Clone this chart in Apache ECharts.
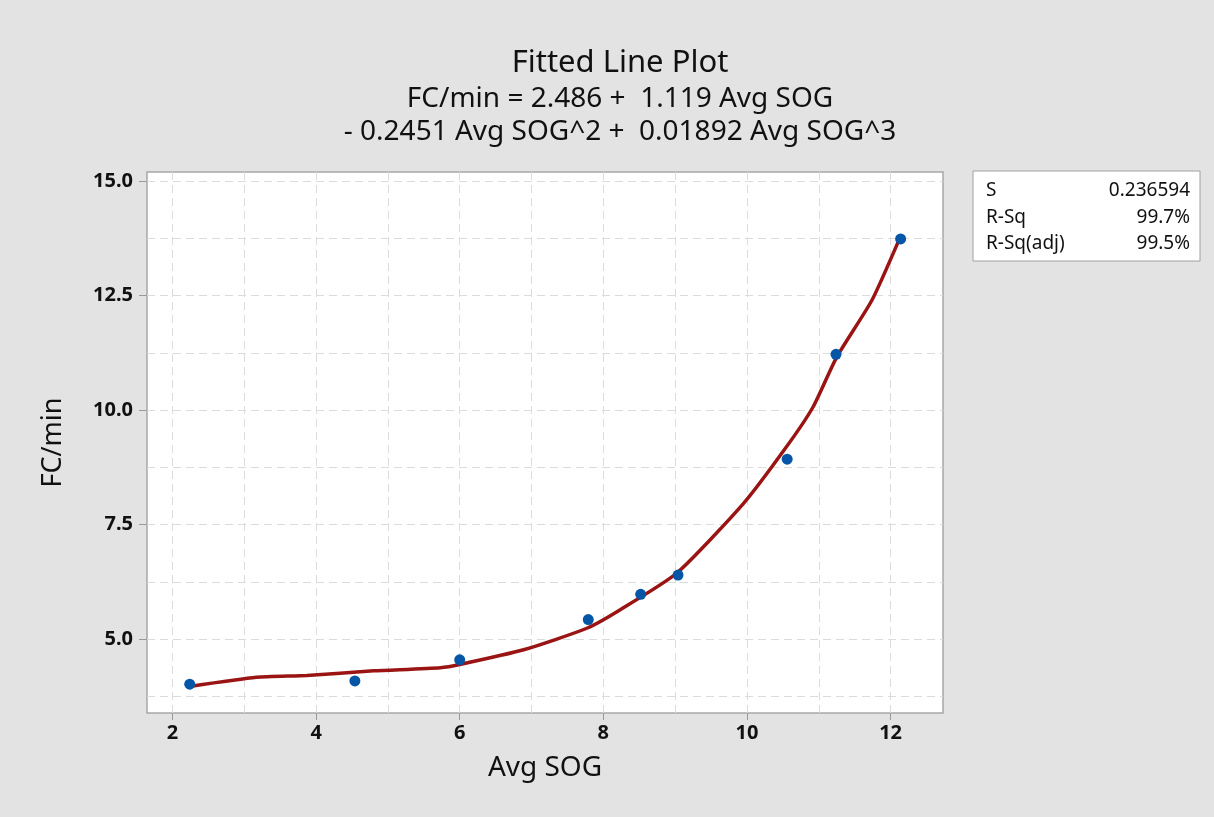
<!DOCTYPE html>
<html>
<head>
<meta charset="utf-8">
<script src="https://cdn.jsdelivr.net/npm/echarts@6/dist/echarts.min.js"></script>
<style>
  html, body { margin: 0; padding: 0; background: #e3e3e3; }
  #chart { width: 1214px; height: 817px; }
</style>
</head>
<body>
<div id="chart"></div>
<script>
// observed points (Avg SOG, FC/min)
const sogX = [2.24, 4.54, 6.00, 7.79, 8.52, 9.04, 10.56, 11.24, 12.14];
const fcY = [4.02, 4.09, 4.55, 5.43, 5.98, 6.40, 8.93, 11.22, 13.74];

// fitted line
const fitX = [2.24, 3.17, 3.87, 4.80, 5.73, 6.00, 6.89, 7.77, 8.23, 9.02, 9.95, 10.55, 10.92, 11.25, 11.74, 12.14];
const fitY = [3.97, 4.17, 4.21, 4.31, 4.38, 4.45, 4.77, 5.24, 5.64, 6.44, 7.96, 9.20, 10.07, 11.16, 12.40, 13.80];

// tick labels and grid lines
const xTicks = [2, 4, 6, 8, 10, 12];
const xGrid = [2, 3, 4, 5, 6, 7, 8, 9, 10, 11, 12];
const yTicks = [5.0, 7.5, 10.0, 12.5, 15.0];
const yGrid = [3.75, 5, 6.25, 7.5, 8.75, 10, 11.25, 12.5, 13.75, 15];

// summary box
const statNames = ['S', 'R-Sq', 'R-Sq(adj)'];
const statValues = ['0.236594', '99.7%', '99.5%'];

const titleLines = [
  'Fitted Line Plot',
  'FC/min = 2.486 +  1.119 Avg SOG',
  '- 0.2451 Avg SOG^2 +  0.01892 Avg SOG^3'
];

const FONT = '"Noto Sans", "Open Sans", sans-serif';
const xMin = 1.645, xMax = 12.73;
const yMin = 3.39, yMax = 15.2;

let myChart = echarts.init(document.getElementById('chart'));

let gridLine = {
  show: true,
  lineStyle: { color: '#dcdcdc', type: [8, 5], width: 1 }
};

let statTexts = [];
statNames.forEach((n, i) => {
  statTexts.push({
    type: 'text', x: 986, y: 191 + i * 26.5,
    style: { text: n, font: '19px ' + FONT, fill: '#111', textVerticalAlign: 'middle' }
  });
  statTexts.push({
    type: 'text', x: 1190, y: 191 + i * 26.5,
    style: { text: statValues[i], font: '19px ' + FONT, fill: '#111', textAlign: 'right', textVerticalAlign: 'middle' }
  });
});

let option = {
  backgroundColor: '#e3e3e3',
  animation: false,
  graphic: [
    {
      type: 'text', x: 620, y: 63,
      style: { text: titleLines[0], font: '31px ' + FONT, fill: '#111', textAlign: 'center', textVerticalAlign: 'middle' }
    },
    {
      type: 'text', x: 620, y: 99,
      style: { text: titleLines[1], font: '28px ' + FONT, fill: '#111', textAlign: 'center', textVerticalAlign: 'middle' }
    },
    {
      type: 'text', x: 620, y: 132,
      style: { text: titleLines[2], font: '28px ' + FONT, fill: '#111', textAlign: 'center', textVerticalAlign: 'middle' }
    },
    {
      type: 'rect', x: 973, y: 171,
      shape: { width: 227, height: 90 },
      style: { fill: '#fff', stroke: '#a0a0a0', lineWidth: 1 }
    }
  ].concat(statTexts),
  grid: {
    left: 147, top: 172, right: 271, bottom: 104,
    show: true,
    backgroundColor: '#fff',
    borderColor: '#a8a8a8',
    borderWidth: 1.5
  },
  xAxis: [
    {
      type: 'value', min: xMin, max: xMax,
      name: 'Avg SOG', nameLocation: 'middle', nameGap: 41,
      nameTextStyle: { fontFamily: FONT, fontSize: 28, color: '#111' },
      axisLine: { show: false },
      axisTick: { show: true, length: 7, customValues: xTicks, lineStyle: { color: '#999' } },
      axisLabel: {
        customValues: xTicks, margin: 10,
        fontFamily: FONT, fontSize: 20, color: '#111', fontWeight: 'bold',
        formatter: v => String(Math.round(v))
      },
      splitLine: { show: false }
    },
    {
      type: 'value', min: xMin, max: xMax, position: 'top',
      axisLine: { show: false },
      axisTick: { show: false, customValues: xGrid },
      axisLabel: { show: false },
      splitLine: gridLine
    }
  ],
  yAxis: [
    {
      type: 'value', min: yMin, max: yMax,
      name: 'FC/min', nameLocation: 'middle', nameGap: 80, nameRotate: 90,
      nameTextStyle: { fontFamily: FONT, fontSize: 27, color: '#111' },
      axisLine: { show: false },
      axisTick: { show: true, length: 8, customValues: yTicks, lineStyle: { color: '#999' } },
      axisLabel: {
        customValues: yTicks, margin: 14,
        fontFamily: FONT, fontSize: 20, color: '#111', fontWeight: 'bold',
        formatter: v => v.toFixed(1)
      },
      splitLine: { show: false }
    },
    {
      type: 'value', min: yMin, max: yMax, position: 'right',
      axisLine: { show: false },
      axisTick: { show: false, customValues: yGrid },
      axisLabel: { show: false },
      splitLine: gridLine
    }
  ],
  series: [
    {
      name: 'fit',
      type: 'line',
      data: fitX.map((x, i) => [x, fitY[i]]),
      showSymbol: false,
      smooth: 0.2,
      lineStyle: { color: '#9a1414', width: 3.5 },
      z: 2
    },
    {
      name: 'data',
      type: 'scatter',
      data: sogX.map((x, i) => [x, fcY[i]]),
      symbol: 'circle',
      symbolSize: 11,
      itemStyle: { color: '#0656a8', opacity: 1 },
      z: 3
    }
  ]
};

myChart.setOption(option);
</script>
</body>
</html>
